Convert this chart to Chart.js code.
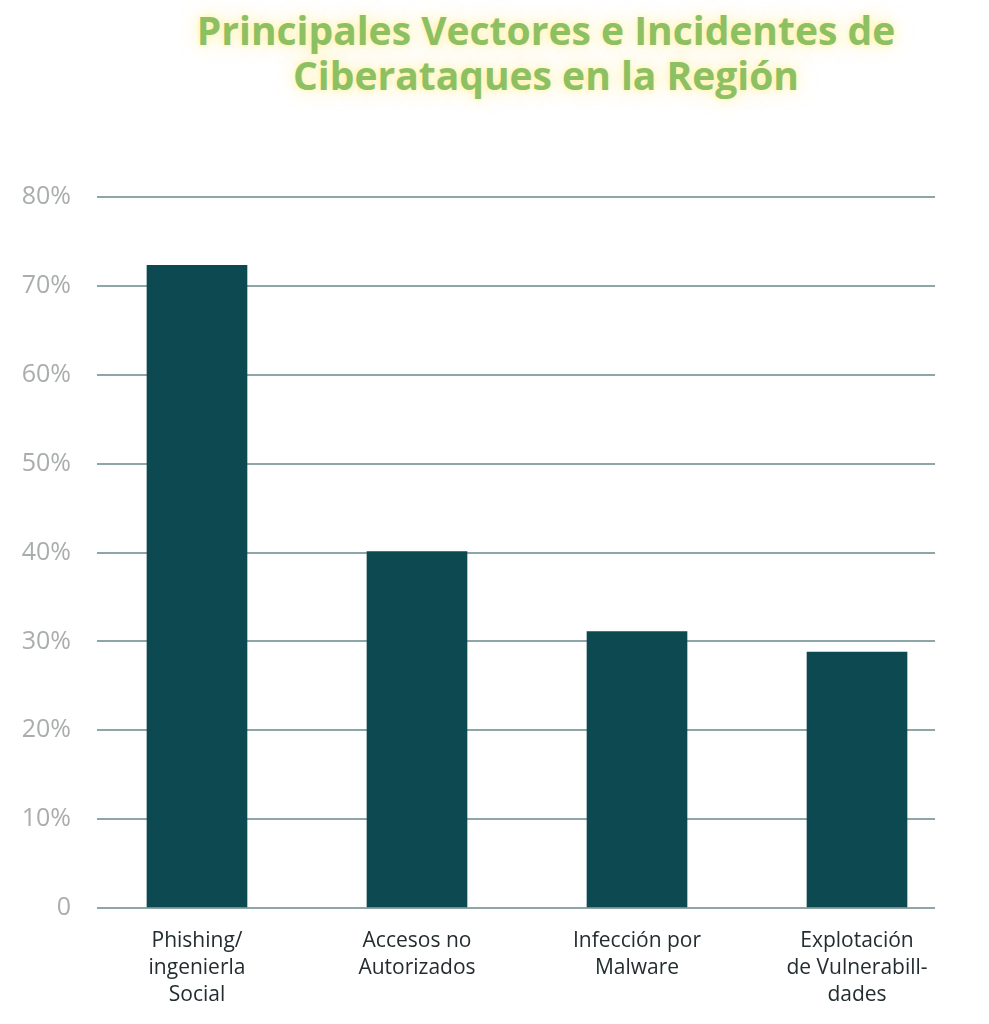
<!DOCTYPE html>
<html>
<head>
<meta charset="utf-8">
<script src="https://cdn.jsdelivr.net/npm/chart.js@4.4.1/dist/chart.umd.min.js"></script>
<style>
  html, body { margin: 0; padding: 0; background: #ffffff; }
  #wrap { position: relative; width: 989px; height: 1024px; }
  #title {
    position: absolute; top: 7px; left: 546px; transform: translateX(-50%);
    width: 900px; text-align: center;
    font-family: "Open Sans", sans-serif; font-weight: 700; font-size: 39px; line-height: 45px;
    color: #8cc063;
    text-shadow: 0 0 18px rgba(255, 230, 80, 0.55), 0 0 5px rgba(255, 240, 150, 0.6);
  }
  canvas { position: absolute; top: 0; left: 0; }
</style>
</head>
<body>
<div id="wrap">
  <div id="title">Principales Vectores e Incidentes de<br>Ciberataques en la Región</div>
  <canvas id="vectorchart" width="989" height="1024"></canvas>
</div>
<script>
const categories = [
  ["Phishing/", "ingenierla", "Social"],
  ["Accesos no", "Autorizados"],
  ["Infección por", "Malware"],
  ["Explotación", "de Vulnerabill-", "dades"],
];
const percentages = [72.3, 40.1, 31.1, 28.8];
const yTicks = [0, 10, 20, 30, 40, 50, 60, 70, 80];

// bars sit at x = 0..3 on a linear axis so the spacing matches the original
const points = percentages.map((v, i) => ({ x: i, y: v }));

const ctx = document.getElementById("vectorchart").getContext("2d");
new Chart(ctx, {
  type: "bar",
  data: {
    datasets: [
      {
        data: points,
        backgroundColor: "#0d4951",
        borderWidth: 0,
        barThickness: 100,
      },
    ],
  },
  options: {
    responsive: false,
    animation: false,
    devicePixelRatio: 1,
    layout: { padding: { top: 197, right: 54, left: 0, bottom: 0 } },
    plugins: { legend: { display: false }, tooltip: { enabled: false } },
    scales: {
      x: {
        type: "linear",
        offset: false,
        bounds: "data",
        min: -0.4545,
        max: 3.3545,
        grid: { display: false, drawTicks: false },
        border: { display: false },
        afterFit: (scale) => { scale.height = 116; },
        afterBuildTicks: (scale) => {
          scale.ticks = categories.map((c, i) => ({ value: i }));
        },
        ticks: {
          autoSkip: false,
          maxRotation: 0,
          padding: 19,
          color: "#232d30",
          font: { family: "'Open Sans', sans-serif", size: 21, lineHeight: 1.3 },
          callback: (value) => categories[value],
        },
      },
      y: {
        min: 0,
        max: 80,
        afterFit: (scale) => { scale.width = 97; },
        afterBuildTicks: (scale) => {
          scale.ticks = yTicks.map((v) => ({ value: v }));
        },
        grid: { color: "#8ea6a7", lineWidth: 2, drawTicks: false },
        border: { display: false },
        ticks: {
          padding: 26,
          color: "#a9aeac",
          font: { family: "'Open Sans', sans-serif", size: 25 },
          callback: (value) => (value === 0 ? "0" : value + "%"),
        },
      },
    },
  },
});
</script>
</body>
</html>
